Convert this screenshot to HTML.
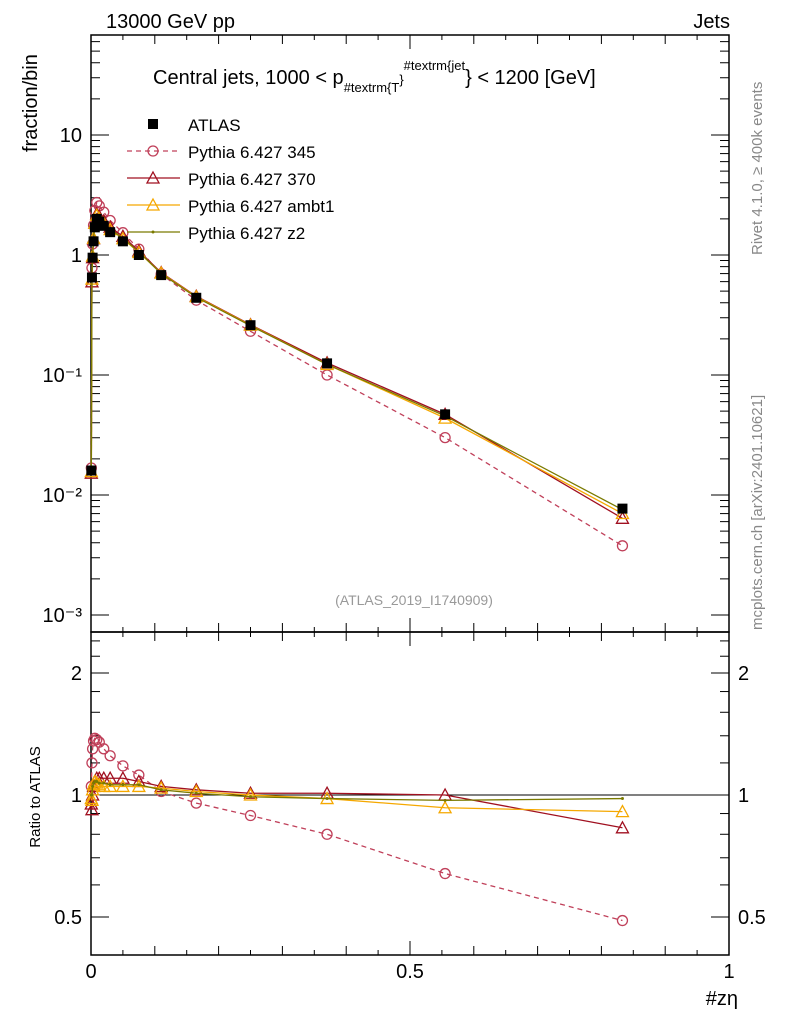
<!DOCTYPE html>
<html><head><meta charset="utf-8"><style>body{margin:0;background:#fff}svg{display:block;font-family:"Liberation Sans",sans-serif}</style></head>
<body>
<svg id="c" width="786" height="1024" viewBox="0 0 786 1024">
<rect width="786" height="1024" fill="#fff"/>
<text x="106" y="28" font-size="20">13000 GeV pp</text>
<text x="730" y="28" font-size="20" text-anchor="end">Jets</text>
<text x="153" y="84" font-size="20">Central jets, 1000 &lt; p<tspan font-size="13" dy="8">#textrm{T</tspan><tspan font-size="13" dy="-8">}</tspan><tspan font-size="13" dy="-14">#textrm{jet</tspan><tspan font-size="20" dy="14">} &lt; 1200 [GeV]</tspan></text>
<text transform="translate(37,152) rotate(-90)" font-size="20">fraction/bin</text>
<text transform="translate(40,797) rotate(-90)" font-size="15" text-anchor="middle">Ratio to ATLAS</text>
<text x="738" y="1005" font-size="20" text-anchor="end">#zη</text>
<text transform="translate(762,255) rotate(-90)" font-size="15" fill="#888">Rivet 4.1.0, ≥ 400k events</text>
<text transform="translate(762,630) rotate(-90)" font-size="15" fill="#888">mcplots.cern.ch [arXiv:2401.10621]</text>
<text x="414" y="605" font-size="14" fill="#999" text-anchor="middle">(ATLAS_2019_I1740909)</text>
<g id="g"></g>
</svg>
<script>
const xs=[0.0005,0.0015,0.0025,0.004,0.006,0.009,0.013,0.02,0.03,0.05,0.075,0.11,0.165,0.25,0.37,0.555,0.833];
const atlas=[0.016,0.65,0.95,1.3,1.7,2.0,1.9,1.75,1.55,1.3,1.0,0.68,0.44,0.26,0.125,0.047,0.0077];
const r345=[1.05,1.2,1.3,1.36,1.38,1.37,1.35,1.3,1.25,1.18,1.12,1.02,0.955,0.89,0.80,0.64,0.49];
const r370=[0.95,0.92,1.0,1.05,1.08,1.1,1.1,1.1,1.1,1.1,1.08,1.05,1.03,1.01,1.01,1.0,0.83];
const rambt1=[0.98,0.97,1.03,1.06,1.08,1.07,1.06,1.05,1.05,1.05,1.05,1.04,1.02,1.0,0.98,0.93,0.91];
const rz2=[1.0,1.0,1.05,1.07,1.08,1.08,1.07,1.07,1.06,1.06,1.06,1.03,1.01,0.99,0.98,0.97,0.98];
const xTicks=[0,0.5,1],xTickLabels=["0","0.5","1"];
const yTicks=[0.001,0.01,0.1,1,10],yTickLabels=["10⁻³","10⁻²","10⁻¹","1","10"];
const rTicks=[0.5,1,2],rTickLabels=["0.5","1","2"];
const L=91,R=729,T=35,B=632,RT=632,RB=955;
const X=v=>L+v*(R-L);
const Y=v=>255-120*Math.log10(v);
const YR=v=>795-122*Math.log2(v);
const g=document.getElementById('g'),NS='http://www.w3.org/2000/svg';
function el(t,a,p){const e=document.createElementNS(NS,t);for(const k in a)e.setAttribute(k,a[k]);(p||g).appendChild(e);return e;}
let f=el('rect',{x:L,y:T,width:R-L,height:B-T,fill:'none',stroke:'#000','stroke-width':1.5});


f=el('rect',{x:L,y:RT,width:R-L,height:RB-RT,fill:'none',stroke:'#000','stroke-width':1.5});


for(let i=0;i<=20;i++){const v=i/20,x=X(v),len=i%10==0?14:(i%2==0?9:5);
 el('line',{x1:x,x2:x,y1:B,y2:B-len,stroke:'#000'});el('line',{x1:x,x2:x,y1:T,y2:T+len,stroke:'#000'});
 el('line',{x1:x,x2:x,y1:RB,y2:RB-len,stroke:'#000'});el('line',{x1:x,x2:x,y1:RT,y2:RT+len,stroke:'#000'});}
xTicks.forEach((v,i)=>{const t=el('text',{x:X(v),y:978,'font-size':20,'text-anchor':'middle'});t.textContent=xTickLabels[i];
 
 });
for(let d=-3;d<=1;d++)for(let m=1;m<10;m++){const v=m*Math.pow(10,d),y=Y(v);if(y<T||y>B)continue;const len=m==1?18:9;
 el('line',{x1:L,x2:L+len,y1:y,y2:y,stroke:'#000'});el('line',{x1:R,x2:R-len,y1:y,y2:y,stroke:'#000'});}
yTicks.forEach((v,i)=>{const t=el('text',{x:82,y:Y(v)+7,'font-size':20,'text-anchor':'end'});t.textContent=yTickLabels[i];
 
 });
[0.5,0.6,0.7,0.8,0.9,1,1.2,1.4,1.6,1.8,2,2.2,2.4].forEach(v=>{const y=YR(v);const len=(v==0.5||v==1||v==2)?18:9;
 el('line',{x1:L,x2:L+len,y1:y,y2:y,stroke:'#000'});el('line',{x1:R,x2:R-len,y1:y,y2:y,stroke:'#000'});});
rTicks.forEach((v,i)=>{[[82,'end'],[738,'start']].forEach(([x,a])=>{const t=el('text',{x:x,y:YR(v)+7,'font-size':20,'text-anchor':a});t.textContent=rTickLabels[i];
 
 });});
el('line',{x1:L,x2:R,y1:YR(1),y2:YR(1),stroke:'#000'});
const series=[
 {n:'pythia-345',r:r345,c:'#c0405a',dash:'5,4',m:'circle'},
 {n:'pythia-370',r:r370,c:'#a01020',dash:'',m:'tri'},
 {n:'pythia-ambt1',r:rambt1,c:'#f5a800',dash:'',m:'tri'},
 {n:'pythia-z2',r:rz2,c:'#7a7a00',dash:'',m:'dot'}];
function marker(s,x,y,name){let e;
 if(s.m=='circle')e=el('circle',{cx:x,cy:y,r:5,fill:'none',stroke:s.c,'stroke-width':1.3});
 else if(s.m=='tri')e=el('path',{d:`M${x},${y-6}L${x+6},${y+5}L${x-6},${y+5}Z`,fill:'none',stroke:s.c,'stroke-width':1.3});
 else e=el('circle',{cx:x,cy:y,r:1.5,fill:s.c});
 
 }
series.forEach(s=>{
 const pts=xs.map((x,i)=>[X(x),Y(atlas[i]*s.r[i])]);
 let p=el('polyline',{points:pts.map(q=>q.join(',')).join(' '),fill:'none',stroke:s.c,'stroke-width':1.3,'stroke-dasharray':s.dash});
 
 
 pts.forEach(q=>marker(s,q[0],q[1],s.n+'-point'));
 const rp=xs.map((x,i)=>[X(x),YR(s.r[i])]);
 p=el('polyline',{points:rp.map(q=>q.join(',')).join(' '),fill:'none',stroke:s.c,'stroke-width':1.3,'stroke-dasharray':s.dash});
 
 
 rp.forEach(q=>marker(s,q[0],q[1],s.n+'-ratio-point'));
});
xs.forEach((x,i)=>{const r=el('rect',{x:X(x)-5,y:Y(atlas[i])-5,width:10,height:10,fill:'#000'});
 
 });
const leg=[['ATLAS',null],['Pythia 6.427 345',series[0]],['Pythia 6.427 370',series[1]],['Pythia 6.427 ambt1',series[2]],['Pythia 6.427 z2',series[3]]];
leg.forEach((l,i)=>{const y=124+i*27;const gg=el('g',{});
 
 
 if(!l[1])el('rect',{x:148,y:y-5,width:10,height:10,fill:'#000'},gg);
 else{el('line',{x1:127,x2:180,y1:y,y2:y,stroke:l[1].c,'stroke-width':1.3,'stroke-dasharray':l[1].dash},gg);marker(l[1],153,y,'legend-marker');}
 const t=el('text',{x:188,y:y+7,'font-size':17},gg);t.textContent=l[0];});
</script>
</body></html>
